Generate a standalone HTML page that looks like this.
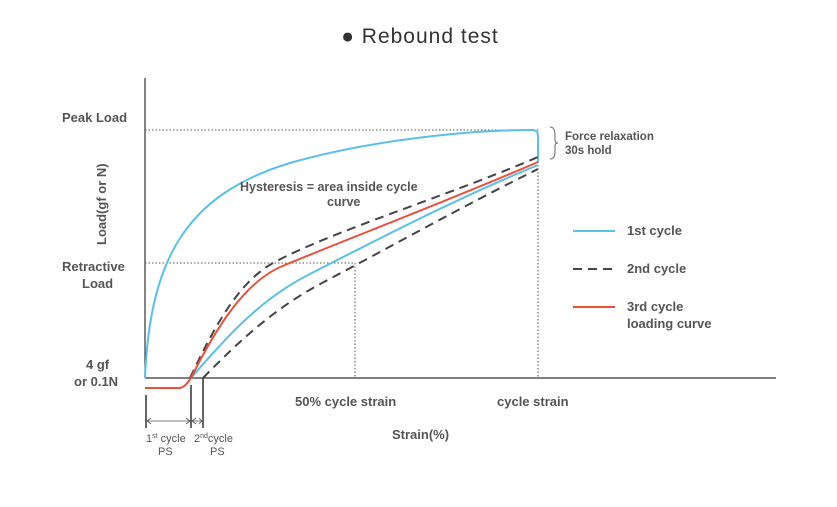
<!DOCTYPE html>
<html><head><style>body{margin:0;background:#fff}svg{display:block}text{font-family:"Liberation Sans",sans-serif;fill:#555}</style></head>
<body>
<svg width="837" height="507" viewBox="0 0 837 507" xmlns="http://www.w3.org/2000/svg">
<text x="420" y="43" font-size="21" text-anchor="middle" style="fill:#333" letter-spacing="1">● Rebound test</text>
<g stroke="#333" stroke-width="1.2" fill="none">
<line x1="145" y1="78" x2="145" y2="378"/>
<line x1="145" y1="378" x2="776" y2="378"/>
</g>
<g stroke="#555" stroke-width="1" stroke-dasharray="1.5,2" fill="none">
<line x1="145" y1="130" x2="540" y2="130"/>
<line x1="145" y1="263" x2="355" y2="263"/>
<line x1="355" y1="263" x2="355" y2="378"/>
<line x1="538" y1="165" x2="538" y2="378"/>
</g>
<path d="M145,378 C150,260 185,195 290,163 C370,140 470,130 532,130 Q538,130 538,136 L538,163" stroke="#5bbfe8" stroke-width="2" fill="none"/>
<path d="M191,378 C228,335 262,298 310,274 C380,238 460,197 538,165" stroke="#5bbfe8" stroke-width="2" fill="none"/>
<path d="M190,378 C215,325 240,280 275,262 C330,232 450,195 538,157" stroke="#444" stroke-width="2" stroke-dasharray="9,6" fill="none"/>
<path d="M203,378 C240,340 275,308 322,283 C392,246 465,205 538,169" stroke="#444" stroke-width="2" stroke-dasharray="9,6" fill="none"/>
<path d="M145,388 L180,388 Q186,387 192,376 C215,330 245,280 285,265 C350,238 450,200 538,162" stroke="#e8503a" stroke-width="2" fill="none"/>
<g stroke="#333" stroke-width="1.5">
<line x1="146" y1="395" x2="146" y2="428"/>
<line x1="191" y1="385" x2="191" y2="428"/>
<line x1="203" y1="378" x2="203" y2="428"/>
</g>
<g stroke="#555" stroke-width="0.8" fill="none">
<line x1="147" y1="421" x2="190" y2="421"/><line x1="192" y1="421" x2="202" y2="421"/>
<path d="M151,418 L147,421 L151,424 M186,418 L190,421 L186,424 M196,418 L192,421 L196,424 M199,418 L202,421 L199,424"/>
</g>
<text x="146" y="442" font-size="11">1<tspan font-size="7" dy="-4">st</tspan><tspan dy="4"> cycle</tspan></text>
<text x="158" y="455" font-size="11">PS</text>
<text x="194" y="442" font-size="11">2<tspan font-size="7" dy="-4">nd</tspan><tspan dy="4">cycle</tspan></text>
<text x="210" y="455" font-size="11">PS</text>
<path d="M550,127 Q555,127 555,135 L555,140 Q555,143 558,143 Q555,143 555,146 L555,152 Q555,159 550,159" stroke="#666" fill="none" stroke-width="1"/>
<g font-weight="bold" font-size="13" style="fill:#555">
<text x="62" y="122">Peak Load</text>
<text x="62" y="271">Retractive</text>
<text x="82" y="288">Load</text>
<text x="86" y="369">4 gf</text>
<text x="74" y="386">or 0.1N</text>
<text x="295" y="406">50% cycle strain</text>
<text x="497" y="406">cycle strain</text>
<text x="392" y="439">Strain(%)</text>
<text x="240" y="191" font-size="12.5">Hysteresis = area inside cycle</text>
<text x="327" y="206" font-size="12.5">curve</text>
<text x="565" y="140" font-size="11.5">Force relaxation</text>
<text x="565" y="154" font-size="11.5">30s hold</text>
<text x="627" y="235">1st cycle</text>
<text x="627" y="273">2nd cycle</text>
<text x="627" y="311">3rd cycle</text>
<text x="627" y="328">loading curve</text>
<text transform="translate(106,245) rotate(-90)" font-size="13">Load(gf or N)</text>
</g>
<line x1="573" y1="231" x2="615" y2="231" stroke="#5bbfe8" stroke-width="2"/>
<line x1="573" y1="269" x2="615" y2="269" stroke="#444" stroke-width="2" stroke-dasharray="9,6"/>
<line x1="573" y1="307" x2="615" y2="307" stroke="#e8503a" stroke-width="2"/>
</svg>
</body></html>
